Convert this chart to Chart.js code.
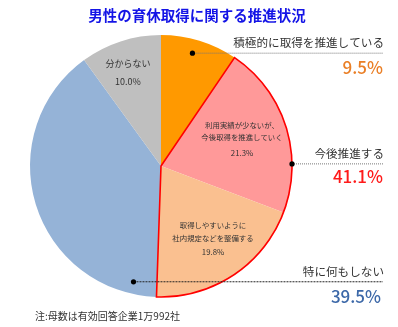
<!DOCTYPE html>
<html lang="ja">
<head>
<meta charset="utf-8">
<script src="https://cdn.jsdelivr.net/npm/chart.js@4"></script>
<style>
  html, body { margin: 0; padding: 0; background: #fff; }
  #wrap { width: 398px; height: 327px; position: relative; }
</style>
</head>
<body>
<div id="wrap"><canvas id="pieChart" width="398" height="327"></canvas></div>
<script>
// 回答区分と割合（%）
const categories = ["積極的に取得を推進している", "利用実績が少ないが、今後取得を推進していく", "取得しやすいように社内規定などを整備する", "特に何もしない", "分からない"];
const shares = [9.5, 21.3, 19.8, 39.5, 10.0];
const sliceColors = ["#FF9900", "#FF9999", "#FAC090", "#95B3D7", "#BFBFBF"];
const promoteTotal = 41.1; // 今後推進する = 利用実績… + 社内規定…

const JP = '"Noto Sans CJK JP", "Noto Sans", sans-serif';

// 「今後推進する」2区分をまとめて赤枠で囲む
const groupOutline = {
    id: "groupOutline",
    afterDatasetsDraw(chart) {
        const arcs = chart.getDatasetMeta(0).data;
        const a = arcs[1], b = arcs[2];
        const ctx = chart.ctx;
        ctx.save();
        ctx.beginPath();
        ctx.moveTo(a.x, a.y);
        ctx.arc(a.x, a.y, a.outerRadius, a.startAngle, b.endAngle);
        ctx.closePath();
        ctx.strokeStyle = "#FF0000";
        ctx.lineWidth = 1.6;
        ctx.lineJoin = "miter";
        ctx.stroke();
        ctx.restore();
    }
};

// タイトル・スライス内ラベル・引き出し線と注記
const annotations = {
    id: "annotations",
    afterDraw(chart) {
        const ctx = chart.ctx;
        const arc = chart.getDatasetMeta(0).data[0];
        const cx = arc.x, cy = arc.y, r = arc.outerRadius;
        const right = 383;

        ctx.save();
        ctx.textBaseline = "middle";

        // タイトル
        ctx.fillStyle = "#1414E6";
        ctx.font = "bold 14.5px " + JP;
        ctx.textAlign = "center";
        ctx.fillText("男性の育休取得に関する推進状況", 197, 15);

        // スライス内ラベル
        ctx.fillStyle = "#333";
        ctx.font = "7.4px " + JP;
        ctx.fillText("利用実績が少ないが、", 242, 125);
        ctx.fillText("今後取得を推進していく", 242, 137);
        ctx.font = "7.8px " + JP;
        ctx.fillText(shares[1].toFixed(1) + "%", 242, 153);

        ctx.font = "7.4px " + JP;
        ctx.fillText("取得しやすいように", 213, 225);
        ctx.fillText("社内規定などを整備する", 213, 238);
        ctx.font = "7.8px " + JP;
        ctx.fillText(shares[2].toFixed(1) + "%", 213, 252);

        ctx.font = "9px " + JP;
        ctx.fillText("分からない", 128, 64);
        ctx.fillText(shares[4].toFixed(1) + "%", 128, 82);

        // 引き出し線
        function leader(x0, y, dash, color) {
            ctx.save();
            ctx.strokeStyle = color;
            ctx.lineWidth = 1;
            ctx.setLineDash(dash);
            ctx.beginPath();
            ctx.moveTo(x0, y + 0.5);
            ctx.lineTo(right, y + 0.5);
            ctx.stroke();
            ctx.setLineDash([]);
            ctx.fillStyle = "#000";
            ctx.beginPath();
            ctx.arc(x0, y + 0.5, 2.6, 0, Math.PI * 2);
            ctx.fill();
            ctx.restore();
        }
        leader(cx + r * 0.24, cy - r * 0.865, [1, 1], "#777");
        leader(cx + r, cy - r * 0.02, [1, 1], "#777");
        leader(cx - r * 0.21, cy + r * 0.88, [2, 1], "#222");

        // 右側の注記
        ctx.textAlign = "right";
        ctx.fillStyle = "#333";
        ctx.font = "11.6px " + JP;
        ctx.fillText(categories[0], right + 1, 43);
        ctx.fillText("今後推進する", right + 1, 154);
        ctx.fillText(categories[3], right + 1, 272);

        ctx.font = "500 17px " + JP;
        ctx.fillStyle = "#EA7F26";
        ctx.fillText(shares[0].toFixed(1) + "%", right, 68);
        ctx.fillStyle = "#FF1A1A";
        ctx.fillText(promoteTotal.toFixed(1) + "%", right, 177);
        ctx.fillStyle = "#3C68A8";
        ctx.fillText(shares[3].toFixed(1) + "%", right - 2, 297);

        // 注
        ctx.textAlign = "left";
        ctx.fillStyle = "#333";
        ctx.font = "10px " + JP;
        ctx.fillText("注:母数は有効回答企業1万992社", 35, 316);

        ctx.restore();
    }
};

new Chart(document.getElementById("pieChart"), {
    type: "pie",
    data: {
        labels: categories,
        datasets: [{
            data: shares,
            backgroundColor: sliceColors,
            borderWidth: 0
        }]
    },
    options: {
        responsive: false,
        animation: false,
        layout: { padding: { left: 30, right: 106, top: 35, bottom: 30 } },
        plugins: {
            legend: { display: false },
            tooltip: { enabled: false }
        }
    },
    plugins: [groupOutline, annotations]
});
</script>
</body>
</html>
